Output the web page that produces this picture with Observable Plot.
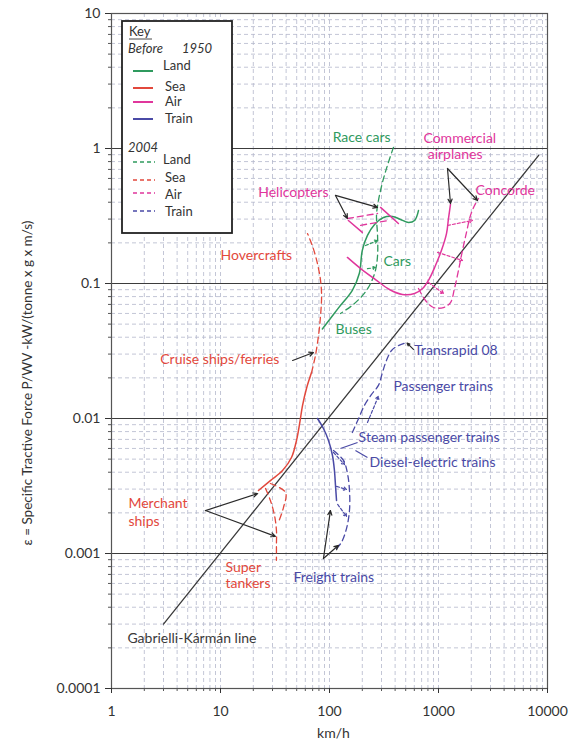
<!DOCTYPE html>
<html><head><meta charset="utf-8">
<script src="https://cdn.jsdelivr.net/npm/d3@7"></script>
<script src="https://cdn.jsdelivr.net/npm/@observablehq/plot@0.6"></script>
<style>
body{margin:0;background:#fff;}
#wrap{position:relative;width:582px;height:749px;font-family:Lato,"Open Sans",sans-serif;}
#key{position:absolute;left:121px;top:20px;}
</style></head><body><div id="wrap"></div>
<script>
// ---- axis ticks ----
const xTicks = [1, 10, 100, 1000, 10000];
const xTickLabels = ["1", "10", "100", "1000", "10000"];
const yTicks = [0.0001, 0.001, 0.01, 0.1, 1, 10];
const yTickLabels = ["0.0001", "0.001", "0.01", "0.1", "1", "10"];
const yDecadeLines = [0.001, 0.01, 0.1, 1];

// ---- curves: [km/h, epsilon] ----
const land1950 = [[86,0.046],[121,0.066],[162,0.089],[188,0.119],[200,0.176],[223,0.227],[259,0.274],[313,0.308],[378,0.314],[448,0.298],[531,0.283],[603,0.293],[655,0.347]];
const land2004 = [[386,1.02],[340,0.75],[306,0.56],[281,0.41],[270,0.32],[276,0.227],[276,0.161],[264,0.125],[238,0.1],[205,0.083],[162,0.069],[126,0.06]];
const sea1950 = [[22.3,0.00293],[28.7,0.00347],[37.1,0.00412],[44.8,0.00514],[49.8,0.00688],[53.2,0.00916],[56.6,0.0125],[61.5,0.0167],[68.4,0.0219]];
const sea2004 = [[68.4,0.0219],[74.3,0.0293],[79.3,0.0412],[82.8,0.058],[84.6,0.0815],[82.8,0.105],[79.3,0.129],[74.3,0.161],[68.4,0.198],[62.9,0.234]];
const tankers2004 = [[25.9,0.00303],[28.7,0.00247],[31.3,0.00191],[32.6,0.00148],[32.6,0.00115],[32.6,0.00089]];
const tankersLink2004 = [[28.7,0.0033],[39.5,0.00283],[37.8,0.00219],[34.0,0.0017]];
const air1950 = [[146,0.156],[193,0.129],[264,0.107],[355,0.0903],[467,0.0829],[603,0.0843],[714,0.0918],[827,0.109],[938,0.136],[1065,0.176],[1184,0.234],[1235,0.303],[1288,0.385]];
const air2004 = [[655,0.0918],[761,0.0748],[900,0.0664],[1111,0.0664],[1288,0.0723],[1402,0.0918],[1525,0.125],[1660,0.176],[1806,0.239],[1965,0.319],[2140,0.378],[2330,0.426]];
const heli1950a = [[149,0.293],[200,0.239]];
const heli1950b = [[294,0.366],[429,0.278]];
const heli2004a = [[146,0.303],[276,0.33]];
const heli2004b = [[193,0.27],[348,0.293]];
const train1950 = [[77.6,0.01],[88,0.00843],[97.9,0.00687],[106.5,0.00532],[111,0.00412],[113.5,0.00319],[116,0.00247]];
const freight2004 = [[108.8,0.00579],[134.4,0.00489],[146.3,0.00391],[152.5,0.00293],[152.5,0.00208],[143.2,0.00153],[128.8,0.00121],[116,0.00109]];
const passenger2004 = [[162,0.00788],[185,0.01],[209,0.0125],[243,0.0151],[281,0.0176],[306,0.0219],[333,0.0269],[371,0.0319],[429,0.0347],[509,0.0365]];
const gabrielliKarman = [[3.0,0.0003],[8300,0.89]];

// ---- improvement links (1950 -> 2004): [x1,y1,x2,y2] ----
const landLinks = [[214,0.191,276,0.208],[223,0.129,264,0.131]];
const airLinks = [[1209,0.269,2050,0.293],[980,0.17,1660,0.148],[810,0.1017,1111,0.0843]];
const trainLinks = [[108.8,0.0056,137.3,0.00456],[116,0.00314,143.2,0.00298],[118.8,0.00231,143.2,0.00188],[223,0.00934,281,0.0146]];

// ---- pointer arrows and leader lines: [x1,y1,x2,y2] ----
const pointerArrows = [
  [113.5,0.449,276,0.366],[113.5,0.449,146,0.303],
  [1209,0.711,1288,0.391],[1209,0.711,2280,0.412],
  [45.9,0.0269,71.3,0.0308],
  [7.28,0.00208,21.9,0.00278],[7.28,0.00208,31.9,0.00134],
  [88,0.000918,102,0.00208],[88,0.000918,121,0.00115],
  [589,0.0325,515,0.0362]
];
const leaderLines = [[126,0.006,181,0.00664],[173,0.00579,223,0.00514]];

// ---- annotation labels: [text, km/h, epsilon, group] ----
const labels = [
  ["Race cars", 197, 1.206, "land"],
  ["Commercial", 728, 1.186, "air"],
  ["airplanes", 796, 0.903, "air"],
  ["Concorde", 2184, 0.489, "air"],
  ["Helicopters", 97.9, 0.472, "air"],
  ["Hovercrafts", 10.0, 0.161, "sea"],
  ["Cars", 313, 0.146, "land"],
  ["Buses", 113.5, 0.0456, "land"],
  ["Cruise ships/ferries", 34.6, 0.0274, "sea"],
  ["Transrapid 08", 600, 0.0319, "train"],
  ["Passenger trains", 386, 0.0173, "train"],
  ["Steam passenger trains", 185, 0.00723, "train"],
  ["Diesel-electric trains", 233, 0.00472, "train"],
  ["Merchant", 1.43, 0.00234, "sea"],
  ["ships", 1.43, 0.00172, "sea"],
  ["Super", 11.1, 0.00079, "sea"],
  ["tankers", 11.1, 0.0006, "sea"],
  ["Freight trains", 46.7, 0.000664, "train"],
  ["Gabrielli-Kármán line", 1.40, 0.000235, "gk"]
];
const legendModes = ["Land", "Sea", "Air", "Train"];

// ---- styles ----
const colors = {land: "#2f9a5e", sea: "#e2483c", air: "#e0369c", train: "#4a4aa6", gk: "#3a3a3a"};
const anchors = {"Race cars": "middle", "Helicopters": "end", "Cruise ships/ferries": "end"};
const DASH = "6,4";

const xLabelMap = new Map(xTicks.map((t, i) => [t, xTickLabels[i]]));
const yLabelMap = new Map(yTicks.map((t, i) => [t, yTickLabels[i]]));

const decadeRange = (lo, hi) => { const out = []; for (let e = lo; e < hi; e++) for (let m = 2; m <= 9; m++) out.push(m * Math.pow(10, e)); return out; };
const xMinor = decadeRange(0, 4).concat([10, 100, 1000]);
const yMinor = decadeRange(-4, 1);

const pts = a => a.map(([x, y]) => ({x, y}));
const segs = a => a.map(([x1, y1, x2, y2]) => ({x1, y1, x2, y2}));

const curves = [
  [land1950, "land", false], [land2004, "land", true],
  [sea1950, "sea", false], [sea2004, "sea", true], [tankers2004, "sea", true], [tankersLink2004, "sea", true],
  [air1950, "air", false], [air2004, "air", true],
  [heli1950a, "air", false], [heli1950b, "air", false], [heli2004a, "air", true], [heli2004b, "air", true],
  [train1950, "train", false], [freight2004, "train", true], [passenger2004, "train", true]
];

const marks = [
  Plot.ruleX(xMinor, {stroke: "#b4b8cc", strokeWidth: 0.8, strokeDasharray: "4,3"}),
  Plot.ruleY(yMinor, {stroke: "#b4b8cc", strokeWidth: 0.8, strokeDasharray: "4,3"}),
  Plot.ruleY(yDecadeLines, {stroke: "#3c3c3c", strokeWidth: 1.2}),
  Plot.frame({stroke: "#555", strokeWidth: 1.2}),
  Plot.axisX(xMinor, {tickFormat: () => "", tickSize: 3, label: null, stroke: "#555"}),
  Plot.axisY(yMinor, {tickFormat: () => "", tickSize: 3, label: null, stroke: "#555"}),
  Plot.axisX(xTicks, {tickFormat: d => xLabelMap.get(d), tickSize: 5, tickPadding: 13, fontSize: 14, label: null, fill: "#333", stroke: "#333"}),
  Plot.axisY(yTicks, {tickFormat: d => yLabelMap.get(d), tickSize: 6, tickPadding: 5, fontSize: 14, label: null, fill: "#333", stroke: "#333"}),
  Plot.line(pts(gabrielliKarman), {x: "x", y: "y", stroke: colors.gk, strokeWidth: 1.3}),
  ...curves.map(([a, g, dashed]) => Plot.line(pts(a), {x: "x", y: "y", curve: "catmull-rom", stroke: colors[g], strokeWidth: dashed ? 1.3 : 1.5, strokeDasharray: dashed ? DASH : null})),
  Plot.arrow(segs(landLinks), {x1: "x1", y1: "y1", x2: "x2", y2: "y2", stroke: colors.land, strokeWidth: 1.2, strokeDasharray: "3,2", headLength: 4}),
  Plot.arrow(segs(airLinks), {x1: "x1", y1: "y1", x2: "x2", y2: "y2", stroke: colors.air, strokeWidth: 1.2, strokeDasharray: "3,2", headLength: 4}),
  Plot.arrow(segs(trainLinks), {x1: "x1", y1: "y1", x2: "x2", y2: "y2", stroke: colors.train, strokeWidth: 1.2, strokeDasharray: "3,2", headLength: 4}),
  Plot.arrow(segs(pointerArrows), {x1: "x1", y1: "y1", x2: "x2", y2: "y2", stroke: "#2a2a2a", strokeWidth: 1.2, headLength: 6, headAngle: 50}),
  Plot.link(segs(leaderLines), {x1: "x1", y1: "y1", x2: "x2", y2: "y2", stroke: colors.train, strokeWidth: 1.2}),
  ...labels.map(([t, x, y, g]) => Plot.text([{t, x, y}], {x: "x", y: "y", text: "t", fill: colors[g], fontSize: 14, textAnchor: anchors[t] || "start"})),
  Plot.text(["km/h"], {frameAnchor: "bottom", dy: 49, dx: 4, fontSize: 14, fill: "#333"}),
  Plot.text(["\u03B5 = Specific Tractive Force P/WV -kW/(tonne x g x m/s)"], {frameAnchor: "left", textAnchor: "middle", rotate: -90, dx: -84, dy: 32, fontSize: 13.5, fill: "#333"})
];

const chart = Plot.plot({
  width: 582, height: 749,
  marginLeft: 111, marginRight: 35, marginTop: 13, marginBottom: 61,
  style: {fontFamily: "Lato, 'Open Sans', sans-serif", background: "#fff"},
  x: {type: "log", domain: [1, 10000]},
  y: {type: "log", domain: [0.0001, 10]},
  marks
});
const wrap = document.getElementById("wrap");
wrap.appendChild(chart);

// ---- key (legend) ----
const keyColors = [colors.land, colors.sea, colors.air, colors.train];
const lineY1950 = [51, 68, 82, 99], textY1950 = [50, 71, 86, 103];
const lineY2004 = [142, 160, 173, 191], textY2004 = [144, 162, 179, 196];
let svg = `<svg id="key" width="112" height="214" xmlns="http://www.w3.org/2000/svg" style="font-family:Lato,'Open Sans',sans-serif;font-size:13px;fill:#333">`;
svg += `<rect x="1" y="1" width="110" height="212" fill="#fff" stroke="#222" stroke-width="1.8"/>`;
svg += `<text x="8" y="16">Key</text><line x1="8" y1="19" x2="31" y2="19" stroke="#333" stroke-width="0.9"/>`;
svg += `<text x="7" y="33" font-style="italic">Before</text><text x="61" y="33" font-style="italic">1950</text>`;
legendModes.forEach((m, i) => {
  svg += `<line x1="12" x2="32" y1="${lineY1950[i]}" y2="${lineY1950[i]}" stroke="${keyColors[i]}" stroke-width="2"/>`;
  svg += `<text x="${i ? 44 : 42}" y="${textY1950[i]}">${m}</text>`;
});
svg += `<text x="7" y="132" font-style="italic">2004</text>`;
legendModes.forEach((m, i) => {
  svg += `<line x1="12" x2="34" y1="${lineY2004[i]}" y2="${lineY2004[i]}" stroke="${keyColors[i]}" stroke-width="1.5" stroke-dasharray="4,3"/>`;
  svg += `<text x="${i ? 44 : 42}" y="${textY2004[i]}">${m}</text>`;
});
svg += `</svg>`;
wrap.insertAdjacentHTML("beforeend", svg);
</script></body></html>
